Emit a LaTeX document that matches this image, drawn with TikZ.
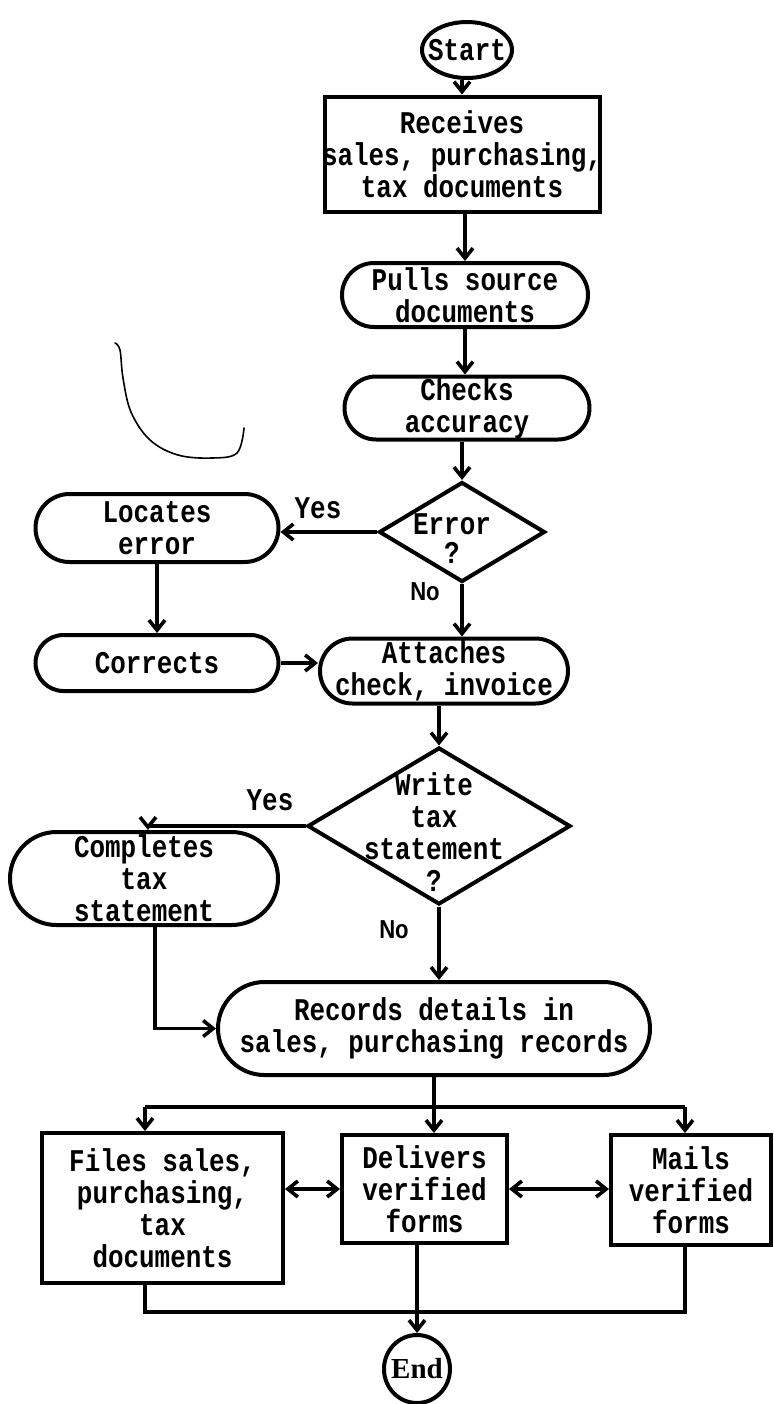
\documentclass[tikz,border=0pt]{standalone}
\usepackage{fontspec}
\newfontfamily\twfont{Liberation Mono}[FakeStretch=0.82]
\newfontfamily\narrowfont{Liberation Sans}[FakeStretch=0.85]
\newfontfamily\termfont{Liberation Serif}
\usetikzlibrary{shapes.geometric,shapes.misc,arrows.meta}
% a centred line of text that takes no width, so the shape keeps its own size
\newcommand{\tline}[1]{\makebox[0pt]{#1}}

\tikzset{
  >={Straight Barb[length=5pt,width=8pt]},
  twtext/.style={font=\twfont\bfseries\fontsize{15.8}{16}\selectfont},
  flow/.style={draw, line width=2pt, inner sep=0pt, align=center, twtext},
  procbox/.style={flow, rectangle},
  pill/.style={flow, rounded rectangle},
  terminal/.style={flow, ellipse},
  decision/.style={draw, diamond, line width=2pt, inner sep=0pt},
  dtext/.style={align=center, inner sep=0pt, twtext},
  arr/.style={line width=1.8pt, ->},
  dbl/.style={line width=1.8pt, <->},
  link/.style={line width=1.8pt},
  yestag/.style={inner sep=0pt, twtext},
  notag/.style={inner sep=0pt, font=\narrowfont\bfseries\fontsize{13}{15}\selectfont},
}

\begin{document}
\begin{tikzpicture}[x=0.5pt, y=-0.5pt]
\useasboundingbox (0,0) rectangle (773,1404);

% ---- nodes ----
\node[terminal, minimum width=45pt, minimum height=28pt, inner xsep=-3.6pt] (start) at (467,50) {Start};
\node[procbox, minimum width=137.5pt, minimum height=57.5pt] (receives) at (462,154)
  {\tline{Receives}\\\tline{sales, purchasing,}\\\tline{tax documents}};
\node[pill, minimum width=123pt, minimum height=32pt] (pulls) at (465,295)
  {\tline{Pulls source}\\\tline{documents}};
\node[pill, minimum width=122.5pt, minimum height=31.5pt] (checks) at (467,408)
  {\tline{Checks}\\\tline{accuracy}};
\node[decision, minimum width=83pt, minimum height=50pt] (err) at (462,532) {};
\node[dtext] (errq) at (452,539) {Error\\[-1.5pt]?};
\node[pill, minimum width=121.5pt, minimum height=34pt] (locates) at (157,528)
  {\tline{Locates}\\\tline{error}};
\node[pill, minimum width=121.5pt, minimum height=28pt] (corrects) at (157,663)
  {\tline{Corrects}};
\node[pill, minimum width=124pt, minimum height=32.5pt] (attaches) at (444,671)
  {\tline{Attaches}\\\tline{check, invoice}};
\node[decision, minimum width=131.5pt, minimum height=78.5pt] (wtax) at (439,826) {};
\node[dtext] (wtaxq) at (434,832) {Write\\tax\\statement\\?};
\node[pill, minimum width=134pt, minimum height=46.5pt] (completes) at (144,878.5)
  {\tline{Completes}\\\tline{tax}\\\tline{statement}};
\node[pill, minimum width=216pt, minimum height=46.5pt] (records) at (434,1028.5)
  {\tline{Records details in}\\\tline{sales, purchasing records}};
\node[procbox, minimum width=120.5pt, minimum height=75pt] (files) at (162.5,1208)
  {\tline{Files sales,}\\\tline{purchasing,}\\\tline{tax}\\\tline{documents}};
\node[procbox, minimum width=82.5pt, minimum height=54pt] (delivers) at (424.5,1189)
  {\tline{Delivers}\\\tline{verified}\\\tline{forms}};
\node[procbox, minimum width=80pt, minimum height=55pt] (mails) at (691,1190)
  {\tline{Mails}\\\tline{verified}\\\tline{forms}};
\node[terminal, font=\termfont\bfseries\fontsize{14.5}{16}\selectfont, inner xsep=-1.5pt,
      minimum width=33pt, minimum height=34pt] (end) at (417,1369) {End};

% ---- branch labels ----
\node[yestag] (yes1) at (318,508) {Yes};
\node[notag] (no1) at (425,592) {No};
\node[yestag] (yes2) at (270,800) {Yes};
\node[notag] (no2) at (394,930) {No};

% ---- connectors ----
\draw[arr] (receives.north |- start.south) -- (receives.north);
\draw[arr] (pulls.north |- receives.south) -- (pulls.north);
\draw[arr] (pulls.south) -- (pulls.south |- checks.north);
\draw[arr] (err.north |- checks.south) -- (err.north);
\draw[arr] (err.west) -- (err.west -| locates.east);
\draw[arr] (locates.south) -- (corrects.north);
\draw[arr] (err.south) -- (err.south |- attaches.north);
\draw[arr] (corrects.east) -- (corrects.east -| attaches.west);
\draw[arr] (wtax.north |- attaches.south) -- (wtax.north);
\draw[arr] (wtax.west) -| ([xshift=2pt]completes.north);
\draw[arr] (wtax.south) -- (wtax.south |- records.north);
\draw[arr] ([xshift=5.5pt]completes.south) |- (records.west);

% fan-out below the records step
\coordinate (splitL) at (145,1107);
\coordinate (splitR) at (685,1107);
\draw[link] (records.south) -- (records.south |- splitL);
\draw[link] (splitL) -- (splitR);
\draw[arr] (splitL) -- (splitL |- files.north);
\draw[arr] (records.south |- splitL) -- (records.south |- delivers.north);
\draw[arr] (splitR) -- (splitR |- mails.north);
\draw[dbl] (files.east |- delivers.west) -- (delivers.west);
\draw[dbl] (delivers.east) -- (delivers.east -| mails.west);

% fan-in towards the end
\coordinate (joinL) at (145,1312);
\coordinate (joinR) at (685,1312);
\draw[link] (joinL |- files.south) -- (joinL) -- (joinR) -- (joinR |- mails.south);
\draw[arr] (end.north |- delivers.south) -- (end.north);

% pen stroke at the left margin
\draw[line width=0.8pt, line cap=round] plot[smooth, tension=0.6] coordinates
  {(115,343) (120,350) (123,378) (131,412) (150,440) (178,455) (212,458) (237,453) (244,428)};
\end{tikzpicture}
\end{document}
